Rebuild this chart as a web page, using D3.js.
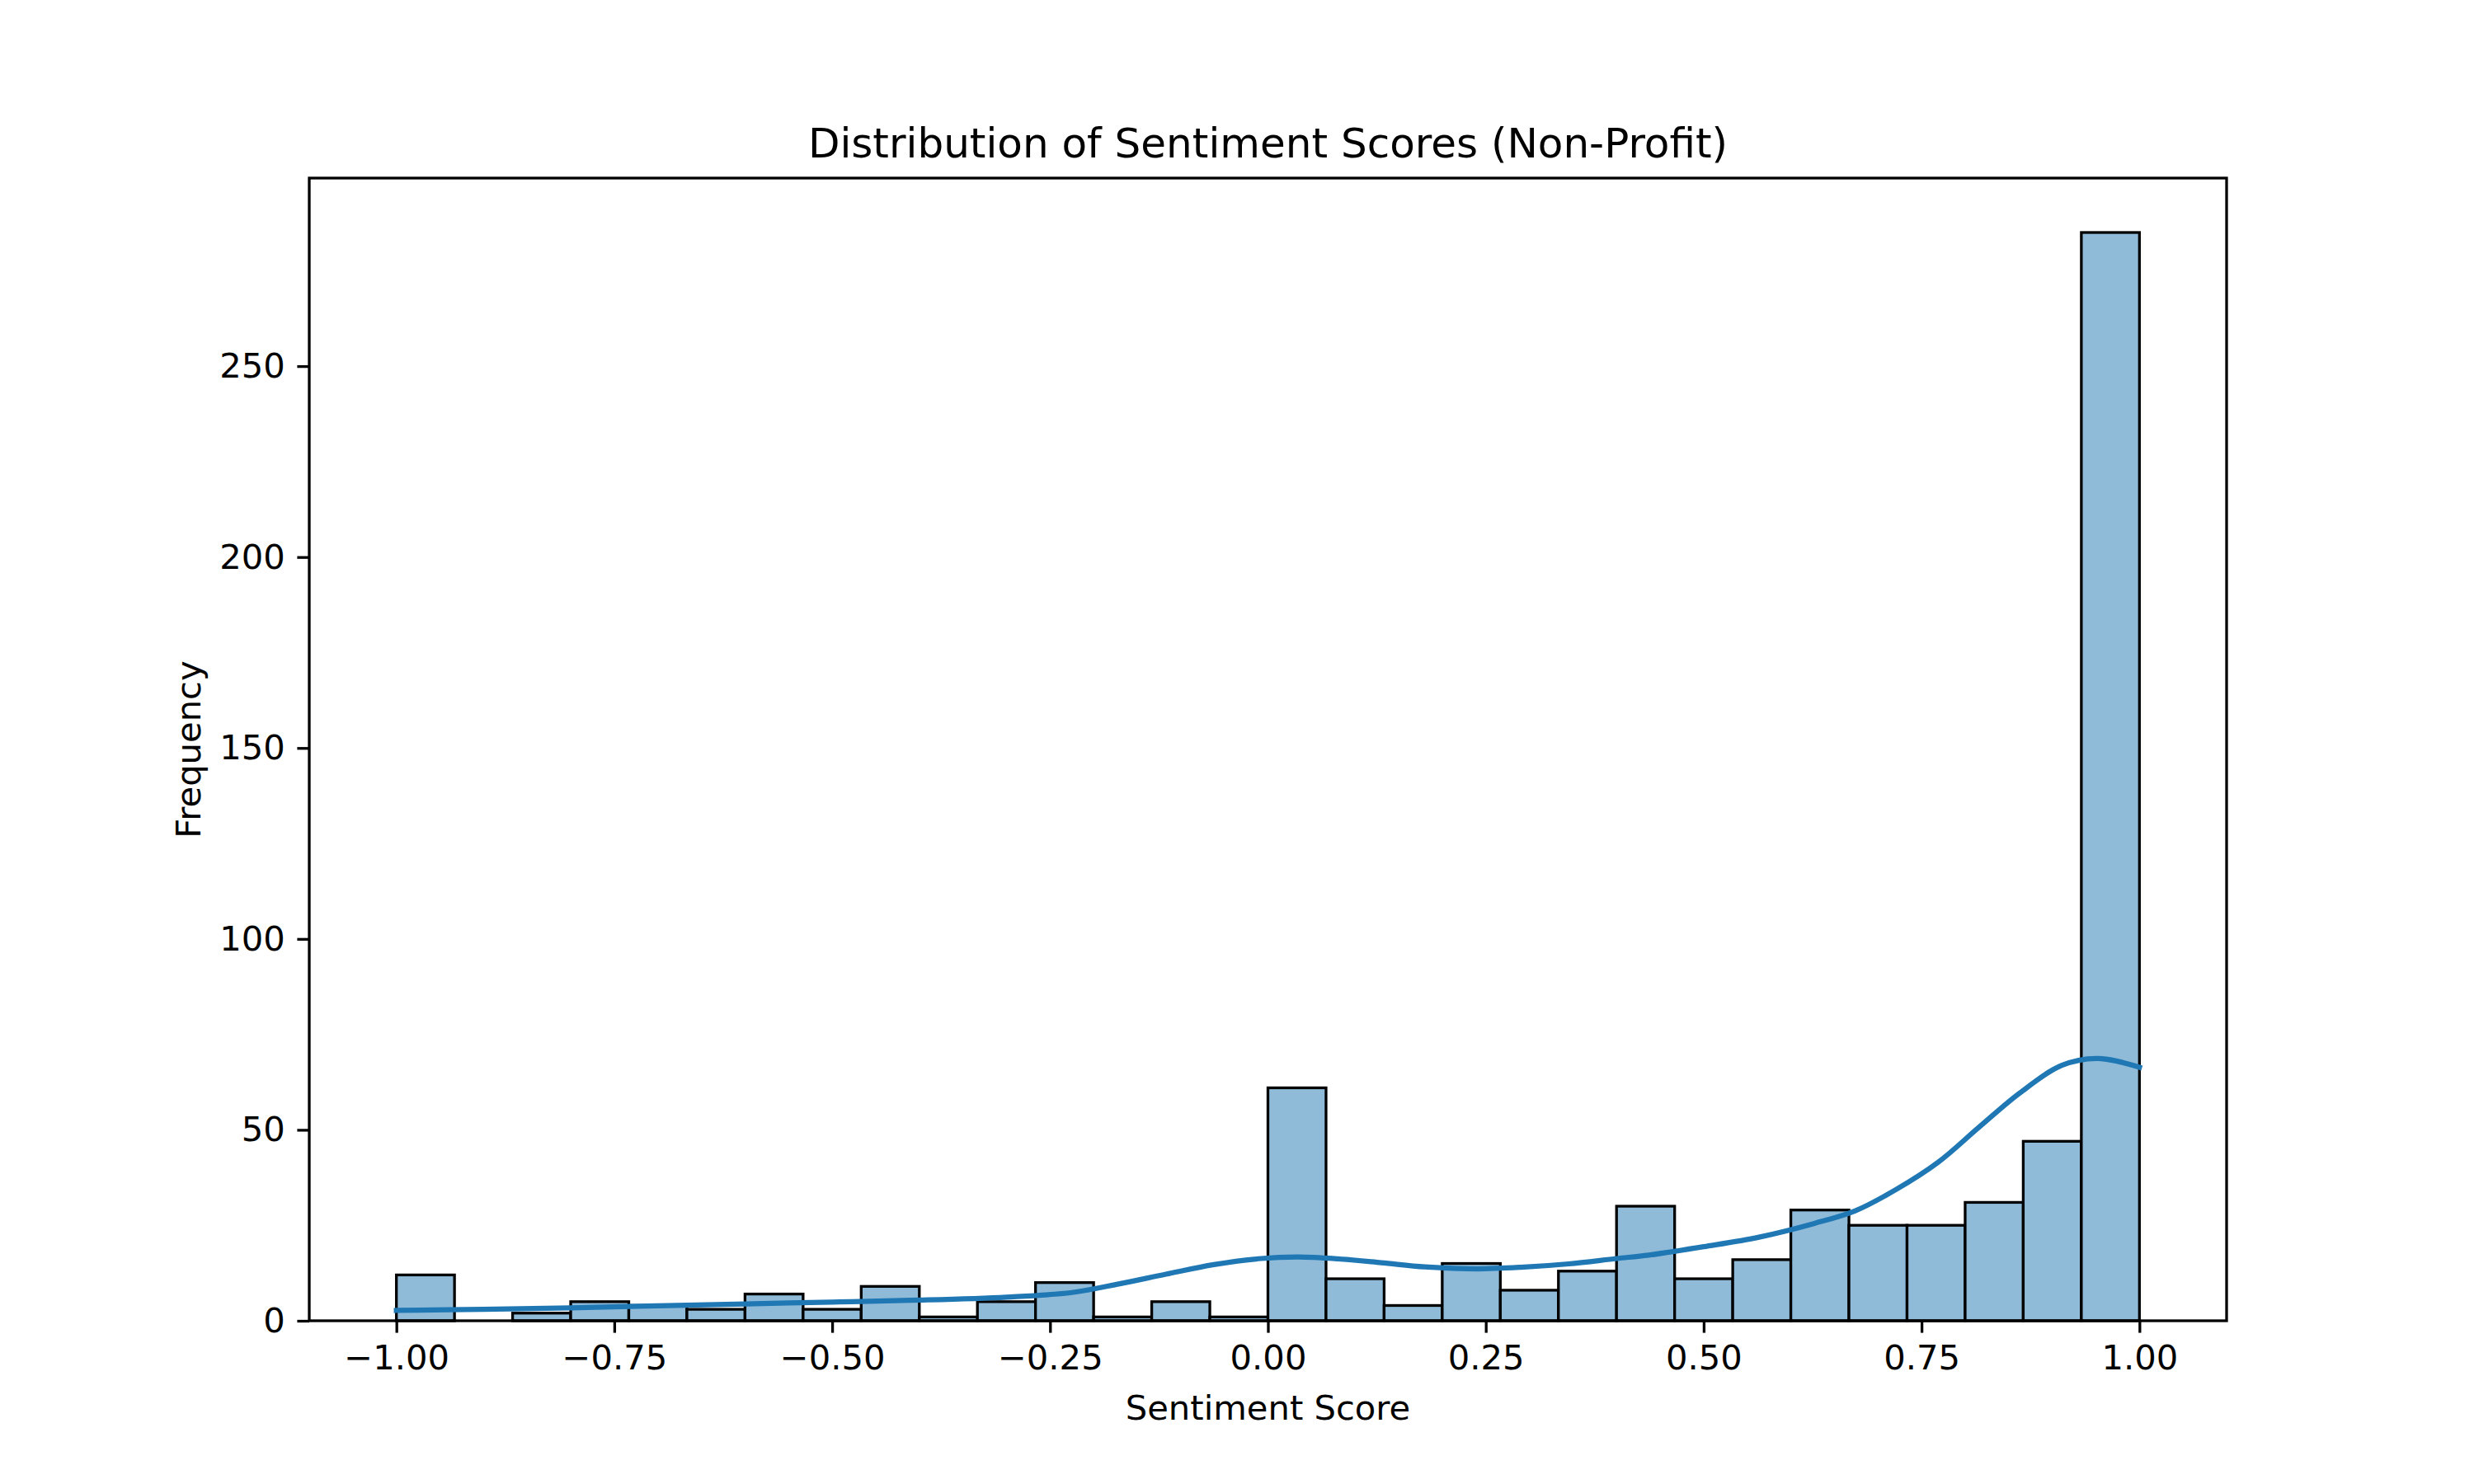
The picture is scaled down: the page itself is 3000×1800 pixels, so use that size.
<!DOCTYPE html>
<html>
<head>
<meta charset="utf-8">
<script src="https://cdn.jsdelivr.net/npm/d3@7"></script>
<style>
  body { margin: 0; background: #fff; }
  text { font-family: "DejaVu Sans", sans-serif; fill: #000; }
</style>
</head>
<body>
<svg width="3000" height="1800"></svg>
<script>
// histogram counts, 30 bins between -1 and 1
var counts = [12, 0, 2, 5, 4, 3, 7, 3, 9, 1, 5, 10, 1, 5, 1,
              61, 11, 4, 15, 8, 13, 30, 11, 16, 29, 25, 25, 31, 47, 285];
var binMin = -1;
var binMax = 1;

// kde curve (x, count scale)
var kdeX = [-1.0, -0.9, -0.8, -0.7, -0.6, -0.5, -0.4, -0.3, -0.225, -0.17, -0.117, -0.062, -0.008,
            0.035, 0.08, 0.13, 0.18, 0.24, 0.29, 0.345, 0.40, 0.437, 0.5, 0.5635, 0.627, 0.674,
            0.721, 0.769, 0.816, 0.863, 0.911, 0.953, 1.0];
var kdeY = [2.7, 3.0, 3.4, 3.9, 4.4, 4.9, 5.4, 6.2, 7.4, 9.7, 12.2, 14.7, 16.3,
            16.7, 16.2, 15.2, 14.1, 13.6, 14.0, 14.9, 16.3, 17.2, 19.4, 21.9, 25.5, 28.8,
            34.4, 41.5, 50.7, 59.7, 66.9, 68.7, 66.4];

var xTicks = [-1.0, -0.75, -0.5, -0.25, 0, 0.25, 0.5, 0.75, 1.0];
var yTicks = [0, 50, 100, 150, 200, 250];

var titleText = "Distribution of Sentiment Scores (Non-Profit)";
var xLabel = "Sentiment Score";
var yLabel = "Frequency";

// layout (matplotlib style 10x6 at 300dpi)
var plotLeft = 375, plotRight = 2700, plotTop = 216, plotBottom = 1602;
var tickLen = 14.6, fontSize = 41.7;

var svg = d3.select("svg");

var binWidth = (binMax - binMin) / counts.length;
var bins = counts.map(function(c, i) {
	return { x0: binMin + i * binWidth, x1: binMin + (i + 1) * binWidth, count: c };
});

var pad = (binMax - binMin) * 0.05;
var xScale = d3.scaleLinear()
	.domain([binMin - pad, binMax + pad])
	.range([plotLeft, plotRight]);

var yScale = d3.scaleLinear()
	.domain([0, d3.max(counts) * 1.05])
	.range([plotBottom, plotTop]);

// bars
svg.append("g")
	.selectAll("rect")
	.data(bins)
	.enter().append("rect")
	.attr("x", function(d) { return xScale(d.x0); })
	.attr("y", function(d) { return yScale(d.count); })
	.attr("width", function(d) { return xScale(d.x1) - xScale(d.x0); })
	.attr("height", function(d) { return yScale(0) - yScale(d.count); })
	.style("fill", "#8fbbd9")
	.style("stroke", "#000")
	.style("stroke-width", 3.3);

// kde line
var line = d3.line()
	.x(function(d) { return xScale(d[0]); })
	.y(function(d) { return yScale(d[1]); })
	.curve(d3.curveCatmullRom.alpha(0.5));

svg.append("path")
	.datum(d3.zip(kdeX, kdeY))
	.attr("d", line)
	.style("fill", "none")
	.style("stroke", "#1f77b4")
	.style("stroke-width", 6.25)
	.style("stroke-linecap", "square");

// x axis
var xAxis = d3.axisBottom(xScale)
	.tickValues(xTicks)
	.tickFormat(d3.format(".2f"))
	.tickSize(tickLen)
	.tickPadding(14.6);

var gx = svg.append("g")
	.attr("transform", "translate(0," + plotBottom + ")")
	.call(xAxis);

// y axis
var yAxis = d3.axisLeft(yScale)
	.tickValues(yTicks)
	.tickSize(tickLen)
	.tickPadding(14.6);

var gy = svg.append("g")
	.attr("transform", "translate(" + plotLeft + ",0)")
	.call(yAxis);

[gx, gy].forEach(function(g) {
	g.select(".domain").remove();
	g.selectAll(".tick line").style("stroke", "#000").style("stroke-width", 3.3);
	g.selectAll(".tick text")
		.attr("font-size", fontSize)
		.style("font-family", "DejaVu Sans, sans-serif");
});
gx.selectAll(".tick text").attr("dy", "0.71em");

// frame
svg.append("rect")
	.attr("x", plotLeft)
	.attr("y", plotTop)
	.attr("width", plotRight - plotLeft)
	.attr("height", plotBottom - plotTop)
	.style("fill", "none")
	.style("stroke", "#000")
	.style("stroke-width", 3.3);

// title and labels
svg.append("text")
	.attr("x", (plotLeft + plotRight) / 2)
	.attr("y", 191)
	.attr("text-anchor", "middle")
	.attr("font-size", 50)
	.text(titleText);

svg.append("text")
	.attr("x", (plotLeft + plotRight) / 2)
	.attr("y", 1722)
	.attr("text-anchor", "middle")
	.attr("font-size", fontSize)
	.text(xLabel);

svg.append("text")
	.attr("transform", "translate(243," + (plotTop + plotBottom) / 2 + ") rotate(-90)")
	.attr("text-anchor", "middle")
	.attr("font-size", fontSize)
	.text(yLabel);
</script>
</body>
</html>
